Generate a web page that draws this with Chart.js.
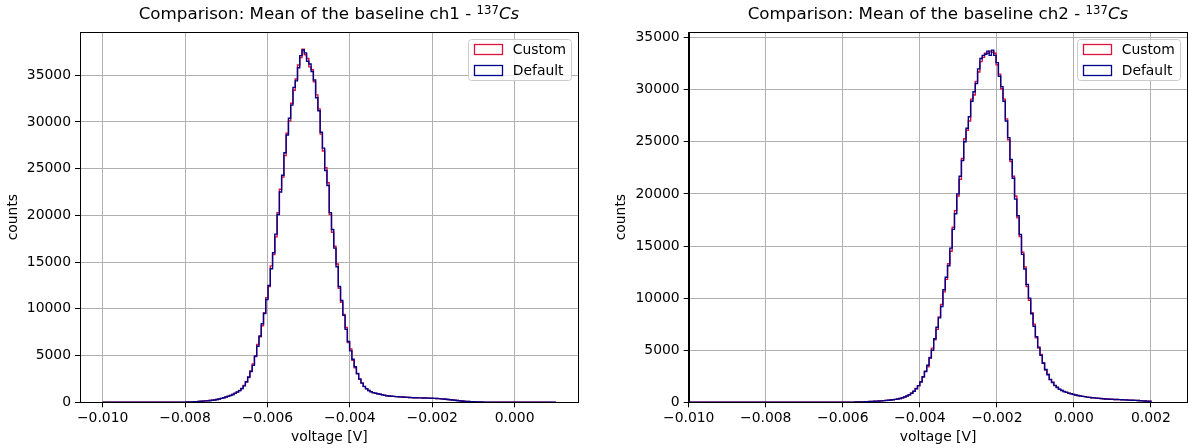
<!DOCTYPE html>
<html>
<head>
<meta charset="utf-8">
<script src="https://cdn.jsdelivr.net/npm/chart.js@4.4.1/dist/chart.umd.min.js"></script>
<style>
  body { margin: 0; background: #fff; width: 1188px; height: 448px; overflow: hidden; position: relative; font-family: "DejaVu Sans", sans-serif; }
  .panel { position: absolute; top: 0; width: 594px; height: 448px; }
  .title { position: absolute; top: 3px; font-size: 16.7px; line-height: 20px; white-space: nowrap; transform: translateX(-50%); color: #000; }
  .title sup { font-size: 70%; vertical-align: 0.45em; line-height: 0; }
</style>
</head>
<body>
<div class="panel" style="left:0"><canvas id="chart-ch1" width="594" height="448"></canvas></div>
<div class="panel" style="left:594px"><canvas id="chart-ch2" width="594" height="448"></canvas></div>
<div class="title" style="left:329px">Comparison: Mean of the baseline ch1 - <sup>137</sup><i>Cs</i></div>
<div class="title" style="left:938px">Comparison: Mean of the baseline ch2 - <sup>137</sup><i>Cs</i></div>
<script>
// --- Data (200 bins per histogram) ---
const seriesLabels = ['Custom', 'Default'];
const seriesColors = ['#dc143c', '#00008b'];

const ch1Range = [-0.010, 0.001];
const ch2Range = [-0.010, 0.002];

const ch1XTicks = [-0.010, -0.008, -0.006, -0.004, -0.002, 0.000];
const ch2XTicks = [-0.010, -0.008, -0.006, -0.004, -0.002, 0.000, 0.002];
const yTicks = [0, 5000, 10000, 15000, 20000, 25000, 30000, 35000];

const ch1XLimits = [-0.010549, 0.001553];
const ch2XLimits = [-0.010, 0.00295];
const ch1YMax = 39630;
const ch2YMax = 35540;

const ch1Default = [
  0,0,0,0,0,0,0,0,0,0, 0,0,0,0,0,0,0,0,0,0, 0,0,1,0,1,1,1,2,2,3,
  3,4,6,8,11,15,20,27,35,45,
  58,72,90,110,130,150,170,190,215,250,
  300,360,420,490,560,640,730,840,960,1100,
  1250,1480,1760,2200,2700,3300,3950,4950,6000,7100,
  8400,9500,11000,12500,14300,16000,18000,20100,22500,24300,
  26700,28600,30400,31800,33700,34400,35800,37100,37700,37400,
  36500,36200,35400,34500,32600,31200,28900,27200,24800,23200,
  20300,18500,16500,14500,12400,10900,9300,7800,6500,5500,
  4600,3800,3050,2500,2050,1700,1450,1270,1130,1040,
  970,910,860,800,740,700,670,650,630,610,
  600,580,560,545,530,515,500,490,480,475,
  470,465,460,450,440,430,420,405,390,370,
  350,325,300,275,250,220,190,165,140,120,
  100,85,70,57,45,37,30,25,20,16,
  12,10,8,7,6,5,4,3,3,2,
  2,1,1,1,1,0,0,0,0,0,
  0,0,0,0,0,0,0,0,0,0
];

const ch1Custom = [
  0,0,0,0,0,0,0,0,0,0, 0,0,0,0,0,0,0,0,0,0, 0,0,1,0,1,1,1,2,2,3,
  3,4,5,8,12,15,21,26,36,44,
  60,71,92,108,133,148,172,188,220,245,
  305,355,425,485,570,630,740,830,975,1090,
  1270,1460,1790,2170,2650,3350,4100,4900,6200,7000,
  8200,9600,11200,12400,14600,15800,17700,20300,22800,24100,
  26400,28800,30100,32000,33400,34600,36100,36900,37800,37200,
  36800,35900,35600,34300,32900,31400,28700,26900,25100,23500,
  20100,18200,16700,14800,12200,10700,9400,8000,6400,5700,
  4500,3700,3100,2450,2080,1680,1460,1260,1140,1030,
  980,900,870,790,750,690,675,645,635,605,
  605,575,565,540,535,510,505,485,485,470,
  475,460,465,445,445,425,425,400,395,365,
  355,320,305,270,255,215,195,160,145,115,
  103,82,72,55,46,36,31,24,21,15,
  12,10,8,7,6,5,4,3,3,2,
  2,1,1,1,1,0,0,0,0,0,
  0,0,0,0,0,0,0,0,0,0
];

const ch2Default = [
  0,0,0,0,0,0,0,0,0,0, 0,0,0,0,0,0,0,0,0,0, 0,0,0,0,0,0,0,0,0,0,
  0,0,0,0,0,0,0,0,0,1,
  0,1,0,1,1,1,1,2,2,2,
  2,3,3,3,4,4,5,5,6,7,
  8,9,10,11,12,13,14,15,16,17,
  18,20,22,28,35,42,50,60,70,82,
  95,110,125,140,160,180,200,225,250,280,
  320,370,430,510,600,720,870,1060,1300,1600,
  1950,2450,2950,3550,4250,5000,6100,7200,8100,9200,
  10800,12000,13100,14800,16600,18100,20000,21700,23200,25000,
  26300,27400,28900,29800,30600,32000,33000,33300,33400,33700,
  33300,33800,33300,32600,31300,30300,28900,27000,25400,23300,
  21500,19500,17900,16100,14200,12800,11300,10000,8500,7300,
  6300,5300,4500,3750,3150,2650,2200,1900,1620,1420,
  1250,1130,1030,950,880,820,760,700,650,610,
  570,540,500,470,440,420,400,380,360,340,
  320,305,295,285,275,265,255,245,235,225,
  210,200,190,180,170,155,140,125,110,95
];

const ch2Custom = [
  0,0,0,0,0,0,0,0,0,0, 0,0,0,0,0,0,0,0,0,0, 0,0,0,0,0,0,0,0,0,0,
  0,0,0,0,0,0,0,0,0,1,
  0,1,0,1,1,1,1,2,2,2,
  2,3,3,3,4,4,5,5,6,7,
  8,9,10,11,12,13,14,15,16,17,
  18,21,23,27,36,41,51,59,72,80,
  97,108,128,138,163,178,204,222,255,276,
  326,365,438,502,612,710,885,1045,1320,1580,
  1980,2420,2990,3400,4300,5200,6000,7000,8200,9400,
  10600,11800,13300,14500,16800,18400,19800,21400,23400,25300,
  26100,27000,29100,29500,30800,31700,32700,33100,33500,33500,
  33700,33600,33500,32400,31500,30100,29100,27200,25200,23100,
  21700,19800,17700,15900,14400,13000,11100,9800,8600,7500,
  6200,5200,4600,3800,3100,2700,2170,1920,1600,1440,
  1240,1140,1020,960,870,830,750,705,645,615,
  565,545,495,475,435,425,395,385,355,345,
  315,310,290,288,272,268,252,248,232,228,
  208,202,188,182,168,157,138,127,108,97
];

const FONT = '"DejaVu Sans", sans-serif';
const FS = 13.9;

// Outline of a step histogram: bin edges + counts
function histPoints(counts, range) {
  const w = (range[1] - range[0]) / counts.length;
  const pts = [{ x: range[0], y: 0 }];
  counts.forEach((c, i) => pts.push({ x: range[0] + i * w, y: c }));
  pts.push({ x: range[1], y: counts[counts.length - 1] });
  pts.push({ x: range[1], y: 0 });
  return pts;
}

function fmtVolt(v) {
  if (Math.abs(v) < 1e-12) v = 0;
  return v.toFixed(3).replace('-', '\u2212');
}

// spines on top of the data, like matplotlib
const framePlugin = {
  id: 'frame',
  afterDatasetsDraw(chart) {
    const a = chart.chartArea, ctx = chart.ctx;
    const l = Math.round(a.left) + 0.5, r = Math.round(a.right) - 0.5;
    const t = Math.round(a.top) + 0.5, b = Math.round(a.bottom) + 0.5;
    ctx.save();
    ctx.strokeStyle = '#000';
    ctx.lineWidth = 1;
    ctx.strokeRect(l, t, r - l, b - t);
    ctx.restore();
  }
};

// boxed legend in the upper right corner of the axes
const boxLegendPlugin = {
  id: 'boxLegend',
  afterDraw(chart) {
    const a = chart.chartArea, ctx = chart.ctx;
    ctx.save();
    ctx.font = FS + 'px ' + FONT;
    const sets = chart.data.datasets;
    const textW = Math.max(...sets.map(d => ctx.measureText(d.label).width));
    const pad = 5.6, patchW = 27.8, patchH = 9.7, gap = 11.1, rowH = 21;
    const w = pad + patchW + gap + textW + pad;
    const h = 41.3;
    const x = a.right - 7 - w, y = a.top + 7;
    ctx.beginPath();
    ctx.roundRect(Math.round(x) + 0.5, Math.round(y) + 0.5, Math.round(w), Math.round(h), 3);
    ctx.fillStyle = 'rgba(255,255,255,0.8)';
    ctx.fill();
    ctx.strokeStyle = '#cccccc';
    ctx.lineWidth = 1;
    ctx.stroke();
    sets.forEach((d, i) => {
      const cy = y + 10.3 + rowH * i;
      ctx.strokeStyle = d.borderColor;
      ctx.lineWidth = 1.3;
      ctx.strokeRect(Math.round(x + pad) + 0.5, Math.round(cy - patchH / 2) + 0.5, Math.round(patchW), Math.round(patchH));
      ctx.fillStyle = '#000';
      ctx.textBaseline = 'middle';
      ctx.fillText(d.label, x + pad + patchW + gap, cy + 1);
    });
    ctx.restore();
  }
};

function makeChart(canvasId, customCounts, defaultCounts, range, xTicks, xLimits, yMax, yWidth, padRight, yTitlePad) {
  const datasets = [customCounts, defaultCounts].map((counts, i) => ({
    label: seriesLabels[i],
    data: histPoints(counts, range),
    borderColor: seriesColors[i],
    borderWidth: 1.4,
    stepped: 'before',
    fill: false,
    pointRadius: 0,
    tension: 0,
    order: 1 - i  // Default drawn on top
  }));

  return new Chart(document.getElementById(canvasId), {
    type: 'line',
    data: { datasets },
    plugins: [framePlugin, boxLegendPlugin],
    options: {
      responsive: false,
      animation: false,
      events: [],
      layout: { padding: { left: 0, right: padRight, top: 32, bottom: 0 } },
      plugins: { legend: { display: false }, tooltip: { enabled: false } },
      scales: {
        x: {
          type: 'linear',
          min: xLimits[0],
          max: xLimits[1],
          afterBuildTicks: s => { s.ticks = xTicks.map(v => ({ value: v })); },
          afterFit: s => { s.height = 45.7; },
          ticks: { autoSkip: false, maxRotation: 0, padding: 3, color: '#000', font: { family: FONT, size: FS }, callback: v => fmtVolt(v) },
          grid: { color: '#b0b0b0', lineWidth: 1, tickColor: '#000', tickLength: 5, tickWidth: 1 },
          border: { color: '#000', width: 1 },
          title: { display: true, text: 'voltage [V]', color: '#000', font: { family: FONT, size: FS }, padding: { top: 0, bottom: 2 } }
        },
        y: {
          min: 0,
          max: yMax,
          afterBuildTicks: s => { s.ticks = yTicks.map(v => ({ value: v })); },
          afterFit: s => { s.width = yWidth; },
          ticks: { autoSkip: false, padding: 4, color: '#000', font: { family: FONT, size: FS }, callback: v => String(v) },
          grid: { color: '#b0b0b0', lineWidth: 1, tickColor: '#000', tickLength: 5, tickWidth: 1 },
          border: { color: '#000', width: 1 },
          title: { display: true, text: 'counts', color: '#000', font: { family: FONT, size: FS }, padding: { top: yTitlePad, bottom: 0 } }
        }
      }
    }
  });
}

makeChart('chart-ch1', ch1Custom, ch1Default, ch1Range, ch1XTicks, ch1XLimits, ch1YMax, 80, 15.4, 5.5);
makeChart('chart-ch2', ch2Custom, ch2Default, ch2Range, ch2XTicks, ch2XLimits, ch2YMax, 94.7, 0.5, 19.5);
</script>
</body>
</html>
